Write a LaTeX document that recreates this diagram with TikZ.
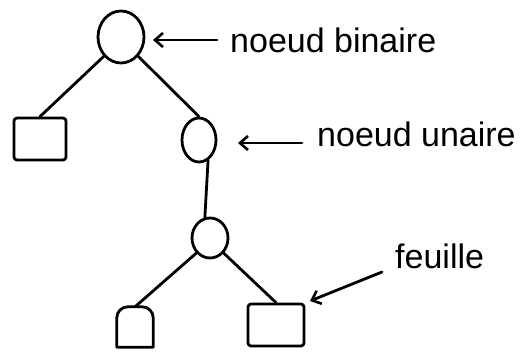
\documentclass[tikz,border=0pt]{standalone}
\usepackage{fontspec}
\setmainfont{Liberation Sans}
\usetikzlibrary{shapes.geometric,arrows.meta}
\begin{document}
\begin{tikzpicture}[x=1pt,y=-1pt,
  stroke/.style={line width=2.8pt,line cap=round,line join=round},
  inner/.style={ellipse,draw,stroke,inner sep=0pt},
  leaf/.style={rectangle,draw,stroke,inner sep=0pt},
  lab/.style={anchor=base west,inner sep=0pt,font=\fontsize{34}{36}\selectfont},
  pointer/.style={stroke,{Straight Barb[length=8pt,width=14pt,line width=2.6pt]}-}]
\useasboundingbox (0,0) rectangle (529,351);
\node[inner,minimum width=46pt,minimum height=52pt] (root) at (121,37) {};
\node[leaf,minimum width=52pt,minimum height=42pt,rounded corners=3pt] (lleaf) at (40,139) {};
\node[inner,minimum width=34pt,minimum height=44pt] (un) at (199,140) {};
\node[inner,minimum width=36pt,minimum height=40pt] (bot) at (210,238) {};
\node[minimum width=36pt,minimum height=40pt,inner sep=0pt] (bl) at (135,327) {};
\draw[stroke] (bl.south east) -- (bl.south west) -- ([yshift=-11pt]bl.north west)
  to[out=90,in=180] ([xshift=11pt]bl.north west) -- ([xshift=-11pt]bl.north east)
  to[out=0,in=90] ([yshift=-11pt]bl.north east) -- cycle;
\node[leaf,minimum width=56pt,minimum height=42pt,rounded corners=3pt] (br) at (276,325) {};
\draw[stroke] (root.south west) -- (lleaf.north);
\draw[stroke] (root.south east) -- (un.north);
\draw[stroke] (un.-66) -- (bot.104);
\draw[stroke] (bot.south west) -- (bl.north);
\draw[stroke] (bot.south east) -- (br.north);
\node[lab] (t1) at (230,52) {noeud binaire};
\node[lab] (t2) at (317,146) {noeud unaire};
\node[lab] (t3) at (395,268) {feuille};
\coordinate (c1) at (217,40);
\coordinate (c2) at (302,143);
\coordinate (c3) at (382,272);
\coordinate (h1) at (153,40);
\coordinate (h2) at (238,143);
\coordinate (h3) at (310,301);
\draw[pointer] (h1) -- (c1);
\draw[pointer] (h2) -- (c2);
\draw[pointer] (h3) -- (c3);
\end{tikzpicture}
\end{document}
